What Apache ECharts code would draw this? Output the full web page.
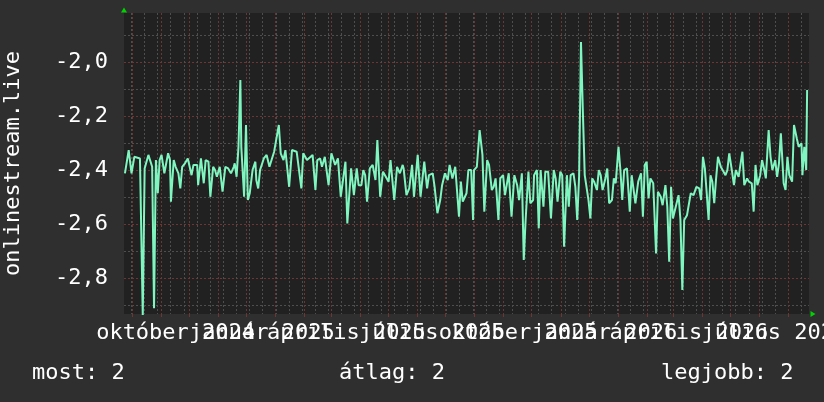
<!DOCTYPE html>
<html><head><meta charset="utf-8">
<script src="https://cdn.jsdelivr.net/npm/echarts@6/dist/echarts.min.js"></script>
<style>html,body{margin:0;padding:0;background:#2f2f2f;}#c{width:824px;height:402px;}</style>
</head><body><div id="c"></div>
<script>
// ---- data ----
const seriesName = 'onlinestream.live';
const startDateUTC = Date.UTC(2024, 6, 23, 12); // left edge of plot (day 0)
const spanDays = 730;

const daysA = [1,5,8,11,17,20,22,26,30,32,34,36,38,40,43,47,49,50,53,55,58,60,62,65,68,72,74,78,79,82,85,87,90,92,95,97,99,102,105,108,111,114,117,118,120,122,124,125,128,130,132,134,137,140,141,143,145,149,152,155,160,165,167,170,172,176,179,184,189,191,195,201,204,206];
const valuesA = [-2.412,-2.326,-2.412,-2.351,-2.357,-2.94,-2.394,-2.344,-2.388,-2.912,-2.363,-2.486,-2.363,-2.344,-2.412,-2.338,-2.363,-2.517,-2.363,-2.388,-2.412,-2.468,-2.388,-2.375,-2.357,-2.419,-2.381,-2.381,-2.456,-2.357,-2.449,-2.363,-2.369,-2.499,-2.388,-2.400,-2.425,-2.388,-2.480,-2.388,-2.394,-2.412,-2.388,-2.375,-2.425,-2.314,-2.067,-2.314,-2.499,-2.233,-2.511,-2.486,-2.400,-2.369,-2.437,-2.468,-2.400,-2.357,-2.344,-2.388,-2.332,-2.233,-2.338,-2.363,-2.326,-2.462,-2.326,-2.332,-2.468,-2.338,-2.363,-2.344,-2.474,-2.363];

const daysB = [209,211,214,218,221,225,228,231,236,238,242,243,245,248,250,253,255,257,259,262,265,268,270,273,276,278,282,284,288,291,294,297,298,301,304,307,309,313,316,320,323,325,329,331,334,337,339,342,345,347,350,353,357,359,361,365,367,370,372,373,376,379,382,384,387,389,392,394,396,399,401,404,406,408,410,413,416,419,421,424,426,428,431,433,436,437,440,442,444,447,449,452,455,458,460,462,465,467,469,472,474,476,479,481,483,485];
const valuesB = [-2.357,-2.388,-2.351,-2.456,-2.338,-2.381,-2.357,-2.499,-2.369,-2.598,-2.394,-2.388,-2.493,-2.394,-2.456,-2.456,-2.400,-2.419,-2.517,-2.394,-2.381,-2.437,-2.289,-2.499,-2.406,-2.400,-2.443,-2.363,-2.511,-2.388,-2.412,-2.381,-2.394,-2.493,-2.468,-2.381,-2.499,-2.344,-2.499,-2.369,-2.468,-2.419,-2.412,-2.462,-2.560,-2.511,-2.456,-2.412,-2.437,-2.381,-2.431,-2.388,-2.573,-2.443,-2.517,-2.486,-2.400,-2.400,-2.585,-2.400,-2.388,-2.252,-2.344,-2.554,-2.363,-2.381,-2.474,-2.462,-2.431,-2.585,-2.431,-2.419,-2.493,-2.486,-2.412,-2.573,-2.419,-2.456,-2.511,-2.412,-2.733,-2.585,-2.406,-2.523,-2.511,-2.419,-2.400,-2.616,-2.400,-2.536,-2.406,-2.406,-2.579,-2.400,-2.431,-2.517,-2.406,-2.419,-2.684,-2.419,-2.536,-2.419,-2.412,-2.462,-2.585,-2.425];

const daysC = [487,489,491,493,495,497,499,501,504,506,508,510,513,515,517,520,522,524,527,529,531,533,536,539,541,543,545,548,551,553,555,557,559,561,564,567,569,572,574,577,579,581,583,585,588,591,593,595,597,600,602,604,607,610,613,615,617,619,621,623,625,627,629,631,633,636,638,641,643,645,648,650,652,655,657,659,661,664,666,669,671,673,675,678,680,682,684,687,689,691,694,696,698,700,703,705,707,709,712,714,717,719,722,723,725,727,728];
const valuesC = [-1.926,-2.184,-2.419,-2.425,-2.511,-2.579,-2.431,-2.443,-2.474,-2.400,-2.419,-2.474,-2.431,-2.394,-2.523,-2.511,-2.431,-2.449,-2.314,-2.400,-2.511,-2.400,-2.394,-2.554,-2.419,-2.412,-2.523,-2.443,-2.412,-2.573,-2.381,-2.369,-2.505,-2.431,-2.449,-2.709,-2.480,-2.499,-2.530,-2.456,-2.536,-2.739,-2.462,-2.579,-2.536,-2.493,-2.585,-2.844,-2.585,-2.567,-2.560,-2.486,-2.493,-2.462,-2.468,-2.511,-2.351,-2.394,-2.486,-2.585,-2.419,-2.443,-2.523,-2.431,-2.351,-2.388,-2.381,-2.419,-2.400,-2.338,-2.406,-2.456,-2.400,-2.425,-2.419,-2.332,-2.456,-2.431,-2.443,-2.449,-2.554,-2.381,-2.456,-2.419,-2.363,-2.394,-2.431,-2.252,-2.351,-2.400,-2.363,-2.425,-2.375,-2.264,-2.449,-2.474,-2.351,-2.419,-2.443,-2.233,-2.283,-2.314,-2.301,-2.419,-2.314,-2.400,-2.104];

// x-axis labels: quarter months, drawn half a month before the month start
const xLabelMonths = [[2024, 9], [2025, 0], [2025, 3], [2025, 6], [2025, 9], [2026, 0], [2026, 3], [2026, 6]];
const xLabelTexts = ['október 2024','január 2025','április 2025','július 2025','október 2025','január 2026','április 2026','július 2026'];
const xLabelShiftDays = -14.5;
const yMajorTicks = [-2.8, -2.6, -2.4, -2.2, -2.0];
const yMinorTicks = [-2.9, -2.7, -2.5, -2.3, -2.1, -1.9];
const yMin = -2.933, yMax = -1.8185;
const statLabels = ['most: 2', 'átlag: 2', 'legjobb: 2'];

// ---- derived axis positions ----
const toDay = (y, m) => (Date.UTC(y, m, 1) - startDateUTC) / 86400000;
const xLabelDays = xLabelMonths.map(([y, m]) => toDay(y, m) + xLabelShiftDays);
// two placeholder entries at the axis ends absorb the min/max-label hiding
const xLabelValues = [0].concat(xLabelDays, [spanDays]);
const monthStartDays = [];
for (let y = 2024, m = 7; y <= 2026; ) {
  const d = toDay(y, m);
  if (d > 0 && d < spanDays) monthStartDays.push(d);
  m++; if (m > 11) { m = 0; y++; }
}
const biweekDays = [];
for (let d = 7.8; d < spanDays; d += 14) biweekDays.push(d);

const days = daysA.concat(daysB, daysC);
const values = valuesA.concat(valuesB, valuesC);
const seriesData = days.map((d, i) => [d, values[i]]);

const FONT = "'DejaVu Sans Mono', monospace";
const RED = '#6f3535';
const GRAY = '#4e4e4e';
const DASH = [2, 2];

const chart = echarts.init(document.getElementById('c'), null, {renderer: 'canvas'});
chart.setOption({
  animation: false,
  backgroundColor: '#2f2f2f',
  grid: {left: 124, right: 15, top: 13, bottom: 88, show: true, backgroundColor: '#212121', borderWidth: 0, containLabel: false, outerBoundsMode: 'none'},
  title: statLabels.map((t, i) => ({
    text: t, left: [32, 339, 661][i], top: 362, padding: 0,
    textStyle: {color: '#ffffff', fontFamily: FONT, fontSize: 22, fontWeight: 'normal'}
  })),
  xAxis: [
    { type: 'value', min: 0, max: spanDays, position: 'bottom',
      axisLine: {show: false}, axisLabel: {show: false},
      axisTick: {show: false, customValues: biweekDays},
      splitLine: {show: true, lineStyle: {color: GRAY, type: DASH, width: 1}} },
    { type: 'value', min: 0, max: spanDays, position: 'bottom',
      axisLine: {show: false},
      axisTick: {show: true, customValues: monthStartDays, length: 3, lineStyle: {color: RED}},
      splitLine: {show: true, lineStyle: {color: RED, type: DASH, width: 1}},
      axisLabel: {customValues: xLabelValues, hideOverlap: false, showMinLabel: false, showMaxLabel: false,
        color: '#ffffff', fontFamily: FONT, fontSize: 22, margin: 8,
        formatter: v => { const i = xLabelDays.findIndex(d => Math.abs(d - v) < 0.01); return i < 0 ? '' : xLabelTexts[i]; } } },
    { type: 'value', min: 0, max: spanDays, position: 'bottom',
      axisLine: {show: true, onZero: false, symbol: ['none', 'triangle'], symbolSize: [6, 5], symbolOffset: [0, 4], lineStyle: {color: '#00d400', width: 0}},
      axisTick: {show: false}, axisLabel: {show: false}, splitLine: {show: false} }
  ],
  yAxis: [
    { type: 'value', min: yMin, max: yMax, position: 'left',
      axisLine: {show: false}, axisLabel: {show: false},
      axisTick: {show: false, customValues: yMinorTicks},
      splitLine: {show: true, lineStyle: {color: GRAY, type: DASH, width: 1}} },
    { type: 'value', min: yMin, max: yMax, position: 'left',
      axisLine: {show: false},
      axisTick: {show: false, customValues: yMajorTicks},
      splitLine: {show: true, lineStyle: {color: RED, type: DASH, width: 1}},
      axisLabel: {customValues: yMajorTicks, showMinLabel: true, showMaxLabel: true, color: '#ffffff', fontFamily: FONT, fontSize: 22, margin: 16,
        formatter: v => v.toFixed(1).replace('.', ',')},
      name: seriesName, nameLocation: 'middle', nameGap: 100, nameRotate: 90,
      nameTextStyle: {color: '#ffffff', fontFamily: FONT, fontSize: 22} },
    { type: 'value', min: yMin, max: yMax, position: 'left',
      axisLine: {show: true, onZero: false, symbol: ['none', 'triangle'], symbolSize: [6, 5], symbolOffset: [0, 3], lineStyle: {color: '#00d400', width: 0}},
      axisTick: {show: false}, axisLabel: {show: false}, splitLine: {show: false} }
  ],
  series: [{
    name: seriesName, type: 'line', xAxisIndex: 1, yAxisIndex: 1,
    data: seriesData, showSymbol: false, symbol: 'none',
    lineStyle: {color: '#7ff5bf', width: 2}, clip: true
  }]
});
</script></body></html>
